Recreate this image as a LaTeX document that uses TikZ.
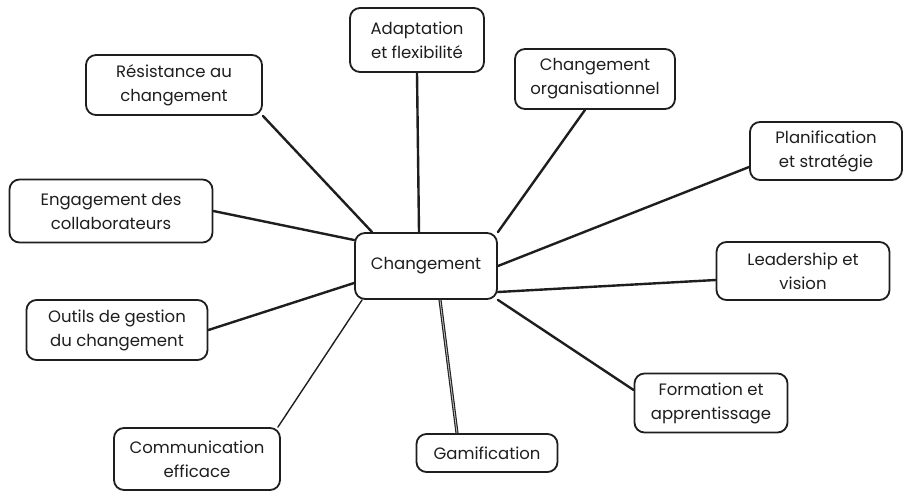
\documentclass[tikz,border=0pt]{standalone}
\usepackage{fontspec}
\setmainfont{Poppins}
\definecolor{ink}{HTML}{1E1E1E}
\begin{document}
\begin{tikzpicture}[x=1pt,y=-1pt,
  box/.style={draw=ink, text=ink, rounded corners=10pt, line width=1.8pt, align=center, inner sep=0pt,
    font=\fontsize{16.5}{24}\selectfont},
  link/.style={draw=ink, line width=2.4pt, line cap=round},
  thinlink/.style={draw=ink, line width=1.4pt, line cap=round},
  doublelink/.style={draw=ink, line width=1.1pt, double=white!70!ink, double distance=0.9pt}]
\useasboundingbox[fill=white] (0,0) rectangle (909,499);
\node[box, minimum width=142pt, minimum height=66pt] (c) at (426,266) {Changement};
\node[box, minimum width=134pt, minimum height=64pt] (adapt) at (417,40) {Adaptation\\et flexibilité};
\node[box, minimum width=160pt, minimum height=60pt] (org) at (595,79) {Changement\\organisationnel};
\node[box, minimum width=176pt, minimum height=60pt] (res) at (174,85) {Résistance au\\changement};
\node[box, minimum width=203pt, minimum height=63pt] (eng) at (111,211) {Engagement des\\collaborateurs};
\node[box, minimum width=181pt, minimum height=60pt] (out) at (117,330) {Outils de gestion\\du changement};
\node[box, minimum width=166pt, minimum height=62pt] (com) at (197,459) {Communication\\efficace};
\node[box, minimum width=141pt, minimum height=38pt] (gam) at (487,453) {Gamification};
\node[box, minimum width=153pt, minimum height=59pt] (form) at (711,403) {Formation et\\apprentissage};
\node[box, minimum width=152pt, minimum height=58pt] (plan) at (826,151) {Planification\\et stratégie};
\node[box, minimum width=173pt, minimum height=58pt] (lead) at (803,271) {Leadership et\\vision};

\draw[link] (adapt.south) -- ([xshift=-7pt]c.north);
\draw[link] ([xshift=-10pt]org.south) -- (c.north east);
\draw[link] (res.south east) -- ([xshift=18pt]c.north west);
\draw[link] (eng.east) -- ([yshift=26pt]c.west);
\draw[link] (out.east) -- ([yshift=-17pt]c.west);
\draw[thinlink] ([xshift=-3pt]com.north east) -- ([xshift=8pt]c.south west);
\draw[doublelink] ([xshift=-30pt]gam.north) -- ([xshift=14pt]c.south);
\draw[link] ([yshift=13pt]form.west) -- (c.south east);
\draw[link] ([yshift=-9pt]lead.west) -- ([yshift=-26pt]c.east);
\draw[link] ([yshift=-16pt]plan.west) -- (c.east);
\end{tikzpicture}
\end{document}
